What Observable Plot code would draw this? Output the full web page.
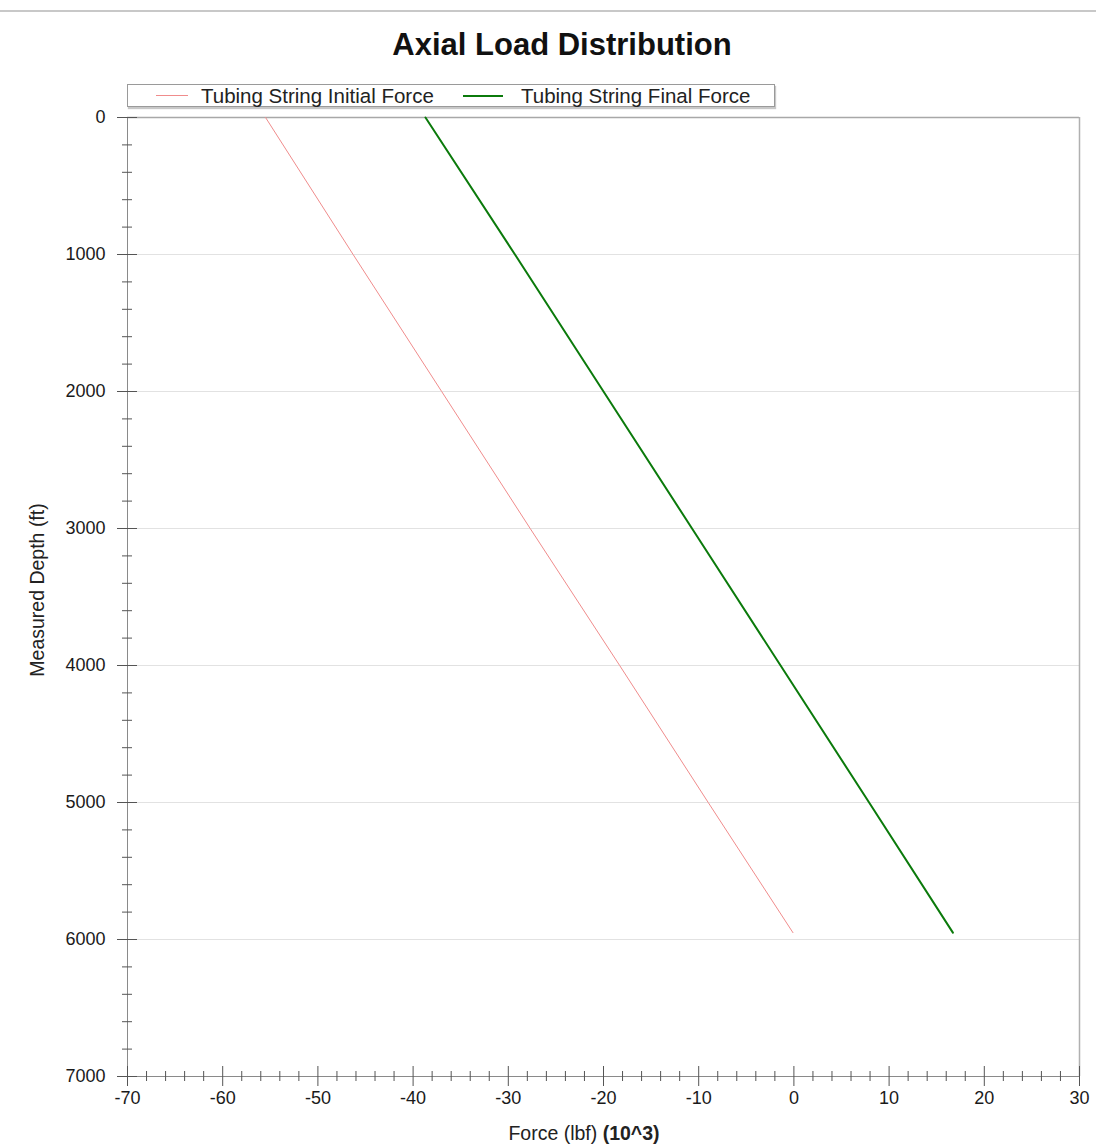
<!DOCTYPE html>
<html>
<head>
<meta charset="utf-8">
<script src="https://cdn.jsdelivr.net/npm/d3@7"></script>
<script src="https://cdn.jsdelivr.net/npm/@observablehq/plot@0.6"></script>
<style>
  html, body { margin: 0; padding: 0; background: #fff; }
  body { width: 1096px; height: 1148px; overflow: hidden; font-family: "Liberation Sans", Arial, sans-serif; color: #222; position: relative; }
  #header { position: relative; width: 1096px; height: 60px; z-index: 2; }
  #topline { position: absolute; left: 0; top: 10px; width: 1096px; height: 0; border-top: 2px solid #c8c8c8; }
  #title { position: absolute; left: 0; top: 27px; width: 1124px; text-align: center; font-weight: bold; font-size: 31px; line-height: 36px; color: #111; }
  #legend { position: absolute; left: 127px; top: 84px; width: 646px; height: 21px; border: 1px solid #9a9a9a; box-shadow: 1px 2px 1px #c8c8c8; background: #fff; }
  .item { position: absolute; top: 0; height: 21px; display: flex; align-items: center; font-size: 20.5px; line-height: 21px; white-space: nowrap; color: #222; }
  .swatch { display: inline-block; }
  .axtitle { position: absolute; font-size: 19.5px; line-height: 22px; white-space: nowrap; color: #222; z-index: 2; }
  .axtitle b { font-weight: bold; }
  #chart svg { display: block; }
</style>
</head>
<body>
<div id="header">
  <div id="topline"></div>
  <div id="title"></div>
  <div id="legend"></div>
</div>
<div id="chart"></div>
<div id="xtitle" class="axtitle"></div>
<div id="ytitle" class="axtitle"></div>
<script>
// ---- data ----
const titleText = "Axial Load Distribution";
const xLabelMain = "Force (lbf) ";
const xLabelUnit = "(10^3)";
const yLabel = "Measured Depth (ft)";
const seriesNames = ["Tubing String Initial Force", "Tubing String Final Force"];
const seriesColors = ["#f08c8c", "#0b7a0b"];
const seriesWidths = [1, 2];

const depths = [0, 1000, 2000, 3000, 4000, 5000, 5950];
const initialForce = [-55.5, -46.3, -37.0, -27.7, -18.3, -9.0, -0.1];
const finalForce = [-38.7, -29.3, -20.0, -10.7, -1.4, 7.9, 16.7];

const xMajorTicks = [-70, -60, -50, -40, -30, -20, -10, 0, 10, 20, 30];
const xMinorTicks = [-68,-66,-64,-62,-58,-56,-54,-52,-48,-46,-44,-42,-38,-36,-34,-32,-28,-26,-24,-22,-18,-16,-14,-12,-8,-6,-4,-2,2,4,6,8,12,14,16,18,22,24,26,28];
const yMajorTicks = [0, 1000, 2000, 3000, 4000, 5000, 6000, 7000];
const yMinorTicks = [200,400,600,800,1200,1400,1600,1800,2200,2400,2600,2800,3200,3400,3600,3800,4200,4400,4600,4800,5200,5400,5600,5800,6200,6400,6600,6800];
const yGridLines = [1000, 2000, 3000, 4000, 5000, 6000];

// ---- header (title + legend) ----
document.getElementById("title").textContent = titleText;
const legend = document.getElementById("legend");
const legendLefts = [28, 335];
const swatchWidths = [32, 40];
const swatchGaps = [13, 18];
seriesNames.forEach((name, i) => {
  const item = document.createElement("div");
  item.className = "item";
  item.style.left = legendLefts[i] + "px";
  const sw = document.createElement("span");
  sw.className = "swatch";
  sw.style.width = swatchWidths[i] + "px";
  sw.style.marginRight = swatchGaps[i] + "px";
  sw.style.borderTop = `${seriesWidths[i]}px solid ${seriesColors[i]}`;
  item.appendChild(sw);
  item.appendChild(document.createTextNode(name));
  legend.appendChild(item);
});

// ---- chart ----
const rows = [];
depths.forEach((d, i) => rows.push({series: seriesNames[0], depth: d, force: initialForce[i]}));
depths.forEach((d, i) => rows.push({series: seriesNames[1], depth: d, force: finalForce[i]}));

const axisColor = "#8a8a8a";
const tickColor = "#555";
const fontSize = 18;
const fmt = d => String(d);

const chart = Plot.plot({
  width: 1096,
  height: 1088,
  marginTop: 57,
  marginLeft: 127,
  marginRight: 17,
  marginBottom: 72,
  style: {fontFamily: "'Liberation Sans', Arial, sans-serif", fontSize: fontSize + "px", color: "#1a1a1a", background: "#fff"},
  x: {domain: [-70, 30], axis: null},
  y: {domain: [0, 7000], reverse: true, axis: null},
  color: {domain: seriesNames, range: seriesColors},
  marks: [
    Plot.ruleY(yGridLines, {stroke: "#e2e2e2", strokeWidth: 1.2}),
    Plot.ruleY([0], {stroke: "#a8a8a8", strokeWidth: 1.5}),
    Plot.ruleX([30], {stroke: "#b0b0b0", strokeWidth: 1.5}),
    Plot.ruleX([-70], {stroke: axisColor}),
    Plot.ruleY([7000], {stroke: axisColor}),
    // x ticks crossing the axis
    Plot.axisX(xMajorTicks, {anchor: "bottom", tickSize: 20, dy: -10, stroke: tickColor, fill: "none", label: null}),
    Plot.axisX(xMinorTicks, {anchor: "bottom", tickSize: 10, dy: -5, stroke: tickColor, fill: "none", label: null}),
    Plot.axisX(xMajorTicks, {anchor: "bottom", tickSize: 10, tickPadding: 5, stroke: "none", fill: "#1a1a1a", label: null, fontSize, tickFormat: fmt}),
    // y ticks crossing the axis
    Plot.axisY(yMajorTicks, {anchor: "left", tickSize: 20, dx: 10, stroke: tickColor, fill: "none", label: null}),
    Plot.axisY(yMinorTicks, {anchor: "left", tickSize: 10, dx: 5, stroke: tickColor, fill: "none", label: null}),
    Plot.axisY(yMajorTicks, {anchor: "left", tickSize: 10, tickPadding: 12, stroke: "none", fill: "#1a1a1a", label: null, fontSize, tickFormat: fmt}),
    // series
    Plot.line(rows, {x: "force", y: "depth", z: "series", stroke: "series", strokeWidth: d => d.series === seriesNames[1] ? 2 : 1})
  ]
});
document.getElementById("chart").appendChild(chart);

// axis titles
const xt = document.getElementById("xtitle");
xt.appendChild(document.createTextNode(xLabelMain));
const xb = document.createElement("b");
xb.textContent = xLabelUnit;
xt.appendChild(xb);
const yt = document.getElementById("ytitle");
yt.textContent = yLabel;
const xw = xt.getBoundingClientRect().width;
xt.style.left = (584 - xw / 2) + "px";
xt.style.top = (1133 - 11) + "px";
const yw = yt.getBoundingClientRect().width;
yt.style.left = (37 - yw / 2) + "px";
yt.style.top = (590 - 11) + "px";
yt.style.transform = "rotate(-90deg)";
yt.style.transformOrigin = "50% 50%";
</script>
</body>
</html>
